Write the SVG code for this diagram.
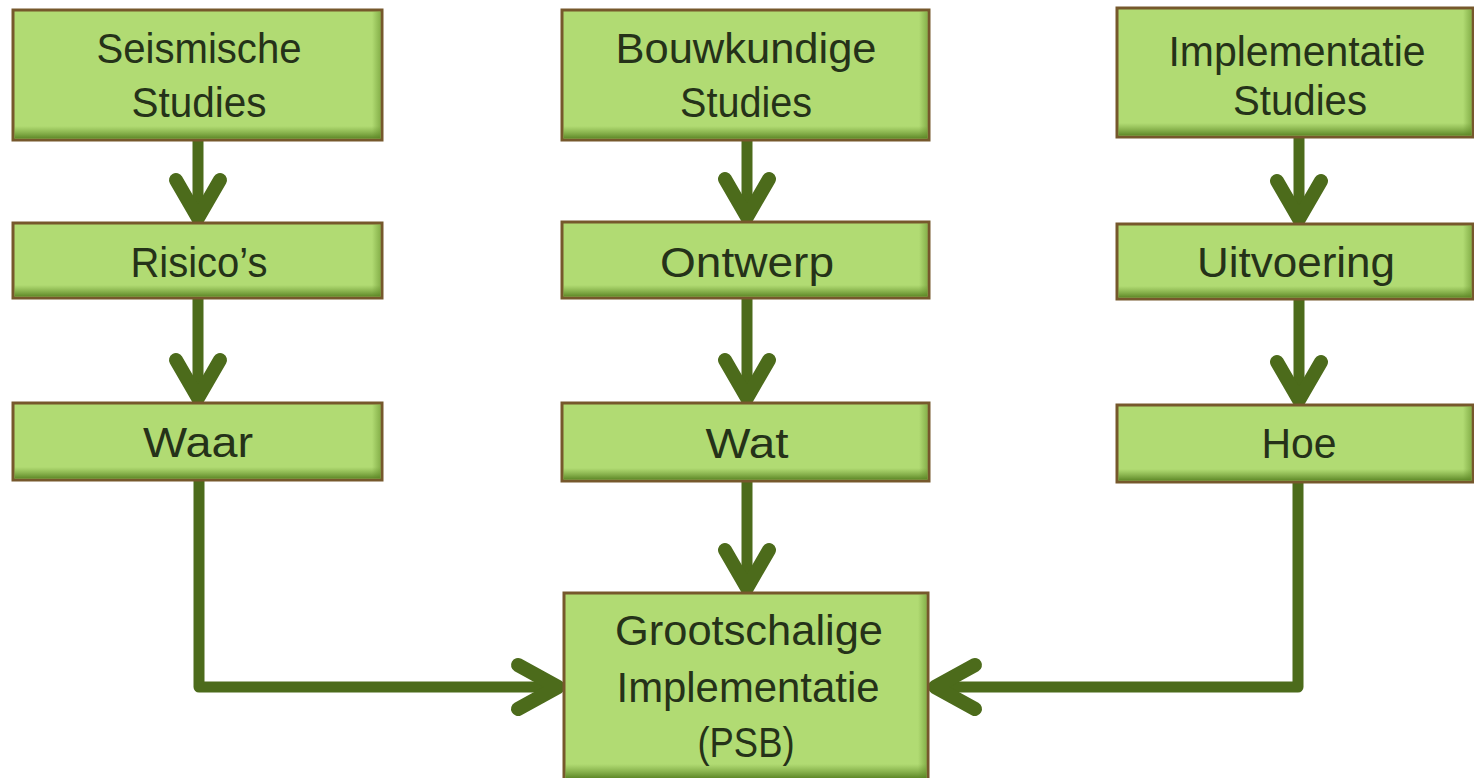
<svg xmlns="http://www.w3.org/2000/svg" width="1474" height="778" viewBox="0 0 1474 778">
<defs>
<linearGradient id="shadeV" x1="0" y1="0" x2="0" y2="1">
<stop offset="0" stop-color="#6a9530" stop-opacity="0"/>
<stop offset="1" stop-color="#5a8424" stop-opacity="0.95"/>
</linearGradient>
<linearGradient id="shadeH" x1="0" y1="0" x2="1" y2="0">
<stop offset="0" stop-color="#6a9530" stop-opacity="0"/>
<stop offset="1" stop-color="#6a9530" stop-opacity="0.6"/>
</linearGradient>
</defs>
<style>
.box{fill:#b1db73;stroke:#76582c;stroke-width:3}
.t{font-family:"Liberation Sans","DejaVu Sans",sans-serif;font-size:42px;fill:#253219;text-anchor:middle}
.c{fill:none;stroke:#4c6b1b;stroke-width:11;stroke-linejoin:round}
.h{fill:none;stroke:#4c6b1b;stroke-width:14;stroke-linecap:round;stroke-linejoin:round}
.sb{fill:url(#shadeV)}
.sr{fill:url(#shadeH)}
</style>
<rect width="1474" height="778" fill="#ffffff"/>

<g id="connectors">
<line class="c" x1="198" y1="140" x2="198" y2="218"/>
<polyline class="h" points="176,180 198,218 220,180"/>
<line class="c" x1="198" y1="298" x2="198" y2="398"/>
<polyline class="h" points="176,360 198,398 220,360"/>
<line class="c" x1="747" y1="140" x2="747" y2="217"/>
<polyline class="h" points="725,179 747,217 769,179"/>
<line class="c" x1="747" y1="298" x2="747" y2="398"/>
<polyline class="h" points="725,360 747,398 769,360"/>
<line class="c" x1="747" y1="481" x2="747" y2="588"/>
<polyline class="h" points="725,550 747,588 769,550"/>
<line class="c" x1="1299" y1="137" x2="1299" y2="219"/>
<polyline class="h" points="1277,181 1299,219 1321,181"/>
<line class="c" x1="1299" y1="299" x2="1299" y2="400"/>
<polyline class="h" points="1277,362 1299,400 1321,362"/>
<polyline class="c" points="199,480 199,687 558,687"/>
<polyline class="h" points="518,665 558,687 518,709"/>
<polyline class="c" points="1298,482 1298,687 935,687"/>
<polyline class="h" points="975,665 935,687 975,709"/>
</g>

<g id="n-seismische">
<rect class="box" x="13" y="10" width="369" height="130"/>
<rect class="sr" x="372" y="11.5" width="8.5" height="127"/>
<rect class="sb" x="14.5" y="126" width="366" height="12.5"/>
<text class="t" x="199" y="63" textLength="205" lengthAdjust="spacingAndGlyphs">Seismische</text>
<text class="t" x="199" y="117" textLength="135" lengthAdjust="spacingAndGlyphs">Studies</text>
</g>
<g id="n-risicos">
<rect class="box" x="13" y="223" width="369" height="75"/>
<rect class="sr" x="372" y="224.5" width="8.5" height="72"/>
<rect class="sb" x="14.5" y="285" width="366" height="11.5"/>
<text class="t" x="199" y="277" textLength="137" lengthAdjust="spacingAndGlyphs">Risico’s</text>
</g>
<g id="n-waar">
<rect class="box" x="13" y="403" width="369" height="77"/>
<rect class="sr" x="372" y="404.5" width="8.5" height="74"/>
<rect class="sb" x="14.5" y="467" width="366" height="11.5"/>
<text class="t" x="198" y="457" textLength="110" lengthAdjust="spacingAndGlyphs">Waar</text>
</g>

<g id="n-bouwkundige">
<rect class="box" x="562" y="10" width="367" height="130"/>
<rect class="sr" x="919" y="11.5" width="8.5" height="127"/>
<rect class="sb" x="563.5" y="126" width="364" height="12.5"/>
<text class="t" x="746" y="63" textLength="261" lengthAdjust="spacingAndGlyphs">Bouwkundige</text>
<text class="t" x="746" y="117" textLength="132" lengthAdjust="spacingAndGlyphs">Studies</text>
</g>
<g id="n-ontwerp">
<rect class="box" x="562" y="222" width="367" height="76"/>
<rect class="sr" x="919" y="223.5" width="8.5" height="73"/>
<rect class="sb" x="563.5" y="285" width="364" height="11.5"/>
<text class="t" x="747" y="277" textLength="174" lengthAdjust="spacingAndGlyphs">Ontwerp</text>
</g>
<g id="n-wat">
<rect class="box" x="562" y="403" width="367" height="78"/>
<rect class="sr" x="919" y="404.5" width="8.5" height="75"/>
<rect class="sb" x="563.5" y="468" width="364" height="11.5"/>
<text class="t" x="747" y="458" textLength="83" lengthAdjust="spacingAndGlyphs">Wat</text>
</g>

<g id="n-implementatie">
<rect class="box" x="1117" y="8" width="356" height="129"/>
<rect class="sr" x="1463" y="9.5" width="8.5" height="126"/>
<rect class="sb" x="1118.5" y="123" width="353" height="12.5"/>
<text class="t" x="1297" y="66" textLength="257" lengthAdjust="spacingAndGlyphs">Implementatie</text>
<text class="t" x="1300" y="115" textLength="134" lengthAdjust="spacingAndGlyphs">Studies</text>
</g>
<g id="n-uitvoering">
<rect class="box" x="1117" y="224" width="356" height="75"/>
<rect class="sr" x="1463" y="225.5" width="8.5" height="72"/>
<rect class="sb" x="1118.5" y="286" width="353" height="11.5"/>
<text class="t" x="1296" y="277" textLength="198" lengthAdjust="spacingAndGlyphs">Uitvoering</text>
</g>
<g id="n-hoe">
<rect class="box" x="1117" y="405" width="356" height="77"/>
<rect class="sr" x="1463" y="406.5" width="8.5" height="74"/>
<rect class="sb" x="1118.5" y="469" width="353" height="11.5"/>
<text class="t" x="1299" y="458" textLength="75" lengthAdjust="spacingAndGlyphs">Hoe</text>
</g>

<g id="n-grootschalige">
<rect class="box" x="564" y="593" width="364" height="190"/>
<rect class="sr" x="918" y="594.5" width="8.5" height="187"/>
<rect class="sb" x="565.5" y="764" width="361" height="14"/>
<text class="t" x="749" y="645" textLength="268" lengthAdjust="spacingAndGlyphs">Grootschalige</text>
<text class="t" x="748" y="702" textLength="263" lengthAdjust="spacingAndGlyphs">Implementatie</text>
<text class="t" x="746" y="757" textLength="97" lengthAdjust="spacingAndGlyphs">(PSB)</text>
</g>
</svg>
